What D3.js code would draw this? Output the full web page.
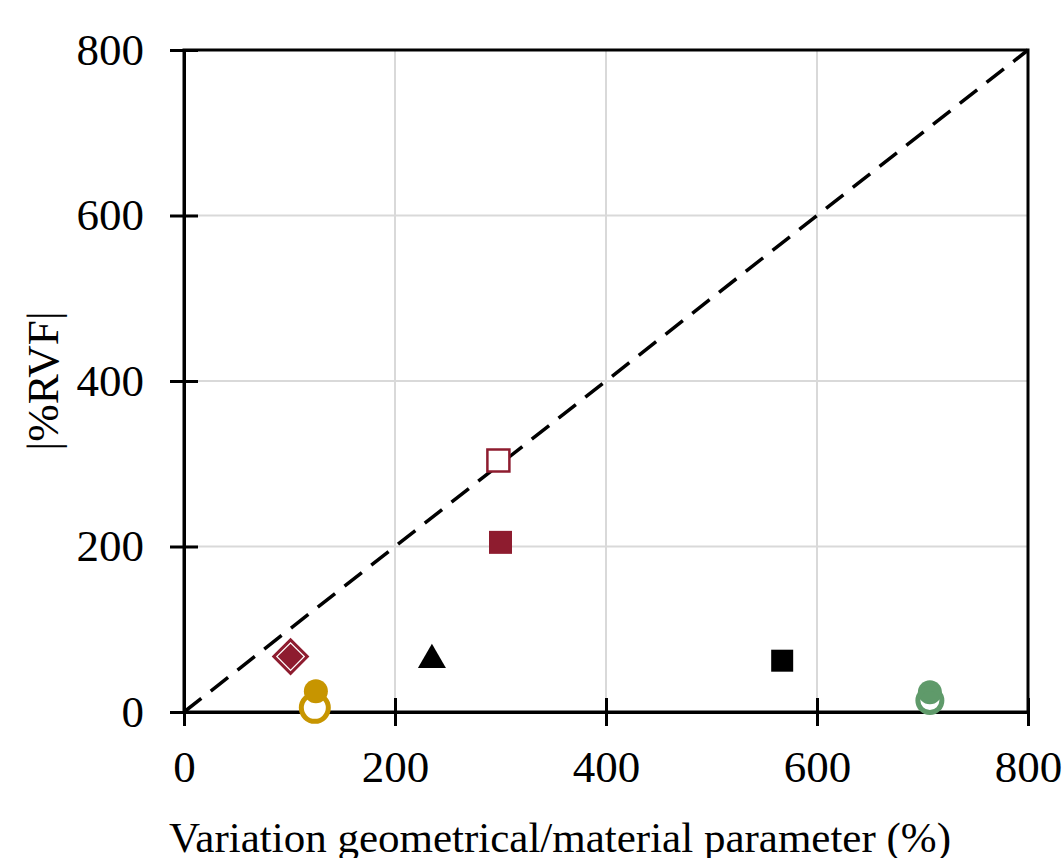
<!DOCTYPE html>
<html lang="en">
<head>
    <meta charset="UTF-8">
    <script src="https://d3js.org/d3.v7.min.js"></script>
    <style>
        body { margin: 0; background: #fff; }
        svg text { font-family: "Liberation Serif", "Times New Roman", serif; fill: #000; }
    </style>
    <title>|%RVF|</title>
</head>
<body>
    <svg width="1062" height="858"></svg>
    <script>
        // axis ticks
        const xTicks = [0, 200, 400, 600, 800];
        const yTicks = [0, 200, 400, 600, 800];

        // points: [x, y]
        const redOpenDiamond = [[101, 67]];
        const redDiamond = [[101, 67]];
        const goldOpenCircle = [[124, 5]];
        const goldCircle = [[125, 25]];
        const blackTriangle = [[235, 63]];
        const redOpenSquare = [[298, 304]];
        const redSquare = [[300, 205]];
        const blackSquare = [[567, 62]];
        const greenCircle = [[707, 24]];
        const greenOpenCircle = [[707, 14]];

        // 1:1 reference line
        const refLine = [[0, 0], [800, 800]];

        const red = '#8e1c2f', gold = '#c79500', green = '#5f9a6a';

        const svg = d3.select('svg');
        const margin = { top: 50, right: 34, bottom: 146, left: 184 };
        const width = +svg.attr('width'), height = +svg.attr('height');
        const innerWidth = width - margin.left - margin.right;
        const innerHeight = height - margin.top - margin.bottom;

        const x = d3.scaleLinear().domain([0, 800]).range([0, innerWidth]);
        const y = d3.scaleLinear().domain([0, 800]).range([innerHeight, 0]);

        const g = svg.append('g').attr('transform', `translate(${margin.left},${margin.top})`);

        // grid
        g.append('g').selectAll('line')
            .data(xTicks.slice(1, -1))
            .join('line')
            .attr('x1', d => x(d)).attr('x2', d => x(d))
            .attr('y1', 0).attr('y2', innerHeight)
            .attr('stroke', '#d9d9d9').attr('stroke-width', 2);
        g.append('g').selectAll('line')
            .data(yTicks.slice(1, -1))
            .join('line')
            .attr('y1', d => y(d)).attr('y2', d => y(d))
            .attr('x1', 0).attr('x2', innerWidth)
            .attr('stroke', '#d9d9d9').attr('stroke-width', 2);

        // frame
        g.append('rect')
            .attr('width', innerWidth).attr('height', innerHeight)
            .attr('fill', 'none').attr('stroke', '#000').attr('stroke-width', 3);

        // axes - ticks cross the axis line
        const xAxis = g.append('g')
            .attr('transform', `translate(0,${innerHeight})`)
            .call(d3.axisBottom(x).tickValues(xTicks).tickSize(14).tickPadding(18));
        xAxis.selectAll('.tick line').clone().attr('y2', -14);
        const yAxis = g.append('g')
            .call(d3.axisLeft(y).tickValues(yTicks).tickSize(14).tickPadding(26));
        yAxis.selectAll('.tick line').clone().attr('x2', 14);

        [xAxis, yAxis].forEach(a => {
            a.select('.domain').attr('stroke-width', 3);
            a.selectAll('.tick line').attr('stroke-width', 3);
            a.selectAll('.tick text')
                .style('font-family', '"Liberation Serif", serif')
                .style('font-size', '45px');
        });
        xAxis.selectAll('.tick text').attr('dy', '0.85em');

        // dashed 1:1 line
        g.append('path')
            .datum(refLine)
            .attr('d', d3.line().x(d => x(d[0])).y(d => y(d[1])))
            .attr('fill', 'none').attr('stroke', '#000')
            .attr('stroke-width', 3.5).attr('stroke-dasharray', '22 12');

        // markers
        const sym = (data, type, size, fill, stroke, sw, rot) => {
            g.append('g').selectAll('path')
                .data(data)
                .join('path')
                .attr('transform', d => `translate(${x(d[0])},${y(d[1])}) rotate(${rot || 0})`)
                .attr('d', d3.symbol().type(type).size(size))
                .attr('fill', fill)
                .attr('stroke', stroke || 'none')
                .attr('stroke-width', sw || 0);
        };

        // diamond: outline with white gap + filled inner
        sym(redOpenDiamond, d3.symbolSquare, 560, '#fff', red, 3, 45);
        sym(redDiamond, d3.symbolSquare, 330, red, null, 0, 45);

        sym(goldOpenCircle, d3.symbolCircle, Math.PI * 13.5 * 13.5, '#fff', gold, 5);
        sym(goldCircle, d3.symbolCircle, Math.PI * 12 * 12, gold);
        sym(blackTriangle, d3.symbolTriangle, 340, '#000');
        sym(redOpenSquare, d3.symbolSquare, 22 * 22, '#fff', red, 2.5);
        sym(redSquare, d3.symbolSquare, 23 * 23, red);
        sym(blackSquare, d3.symbolSquare, 22 * 22, '#000');
        sym(greenCircle, d3.symbolCircle, Math.PI * 12 * 12, green);
        sym(greenOpenCircle, d3.symbolCircle, Math.PI * 12 * 12, 'none', green, 5);

        // axis titles
        svg.append('text')
            .attr('transform', `translate(58,${margin.top + innerHeight / 2}) rotate(-90)`)
            .attr('text-anchor', 'middle')
            .style('font-size', '45px')
            .text('|%RVF|');
        svg.append('text')
            .attr('x', 560).attr('y', 852)
            .attr('text-anchor', 'middle')
            .style('font-size', '43px')
            .text('Variation geometrical/material parameter (%)');
    </script>
</body>
</html>
